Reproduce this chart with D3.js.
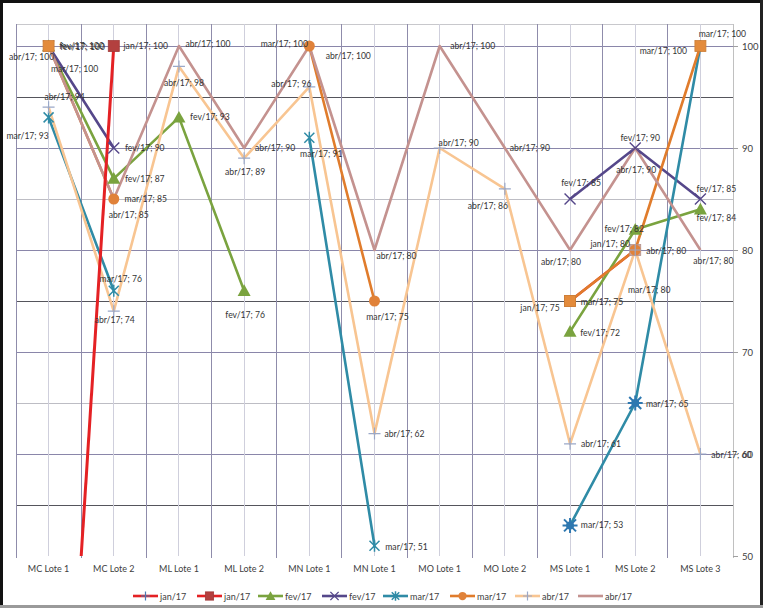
<!DOCTYPE html>
<html><head><meta charset="utf-8">
<script src="https://cdn.jsdelivr.net/npm/d3@7"></script>
<style>body{margin:0;background:#fff} text{font-family:Lato,"Open Sans",sans-serif}</style>
</head><body><svg id="c" width="763" height="608"></svg>
<script>
const categories = ["MC Lote 1","MC Lote 2","ML Lote 1","ML Lote 2","MN Lote 1","MN Lote 1","MO Lote 1","MO Lote 2","MS Lote 1","MS Lote 2","MS Lote 3"];
const seriesNames = ["jan/17","jan/17","fev/17","fev/17","mar/17","mar/17","abr/17","abr/17"];
const jan17a = [null,null,null,null,null,null,null,null,75,80,null];
const jan17b = [0,100,null,null,null,null,null,null,null,null,null];
const fev17a = [100,87,93,76,null,null,null,null,72,82,84];
const fev17b = [100,90,null,null,null,null,null,null,85,90,85];
const mar17a = [93,76,null,null,91,51,null,null,53,65,100];
const mar17b = [100,85,null,null,100,75,null,null,75,80,100];
const abr17a = [94,74,98,89,96,62,90,86,61,80,60];
const abr17b = [100,85,100,90,100,80,100,90,80,90,80];
const yTicks = [50,60,70,80,90,100];

const seriesValues = [jan17a,jan17b,fev17a,fev17b,mar17a,mar17b,abr17a,abr17b];

// styles
const styles = [
  {color:"#e42124", marker:"square", mcolor:"#e08a3c", lmarker:"plus", lmcolor:"#4a7ab5"},
  {color:"#e42124", marker:"square", mcolor:"#b3403f"},
  {color:"#7aa33f", marker:"triangle", mcolor:"#7aa33f"},
  {color:"#55478a", marker:"x", mcolor:"#55478a"},
  {color:"#2f8ba6", marker:"asterisk", mcolor:"#2f8ba6"},
  {color:"#e07c2c", marker:"circle", mcolor:"#e0823a"},
  {color:"#f8c592", marker:"plus", mcolor:"#9aa8c8"},
  {color:"#c4928f", marker:"none", mcolor:"#c4928f"}
];
// per-point marker overrides "series,index"
const markerOverride = {
  "0,9":{marker:"square", mcolor:"#c9a49c"},
  "5,0":{marker:"square", mcolor:"#e38b3c"},
  "5,8":{marker:"square", mcolor:"#e38b3c"},
  "5,10":{marker:"square", mcolor:"#e38b3c"},
  "4,8":{marker:"star", mcolor:"#2e78b0"},
  "4,9":{marker:"star", mcolor:"#2e78b0"}
};
// label offsets (dx,dy) of label centre from point
const labelOffsets = [
  {8:[-30,7],9:[-25,-6]},
  {1:[32,0]},
  {0:[33,0],1:[31,0],2:[31,0],3:[1,24],8:[30,1],9:[-11,-1],10:[16,9]},
  {0:[34,1],1:[31,0],8:[11,-16],9:[5,-10],10:[16,-10]},
  {0:[-21,19],1:[7,-12],4:[12,16],5:[32,1],8:[32,0],9:[32,1],10:[-37,5]},
  {0:[26,23],1:[32,0],4:[-25,-2],5:[13,16],8:[32,1],9:[14,40],10:[22,-12]},
  {0:[16,-10],1:[1,9],2:[5,17],3:[1,14],4:[-18,-3],5:[30,0],6:[19,-5],7:[-17,17],8:[31,0],9:[31,1],10:[31,1]},
  {0:[-17,11],1:[15,16],2:[29,-2],3:[31,0],4:[39,10],5:[22,6],6:[33,0],7:[25,0],8:[-9,12],9:[1,22],10:[13,11]}
];

const svg = d3.select("#c");
const L = 16, R = 733, B = 556;
const x = d3.scaleBand().domain(d3.range(categories.length)).range([L,R]);
const cx = i => x(i) + x.bandwidth()/2;
const y = d3.scaleLinear().domain([50,100]).range([B,46]);
const T = y(102.15);

svg.append("rect").attr("x",0).attr("y",0).attr("width",763).attr("height",608).attr("fill","#fff");

const g = svg.append("g");
// horizontal gridlines every 5
d3.range(55,101,5).forEach(v=>{
  let c = v%10===0 ? "#8a86aa" : (v===95||v===75||v===55 ? "#55555c" : "#bdbdc4");
  g.append("line").attr("x1",L).attr("x2",R).attr("y1",y(v)).attr("y2",y(v)).attr("stroke",c).attr("stroke-width",1).attr("shape-rendering","crispEdges");
});
g.append("line").attr("x1",L).attr("x2",R).attr("y1",T).attr("y2",T).attr("stroke","#c8c8cc").attr("shape-rendering","crispEdges");
// vertical gridlines
categories.forEach((c,i)=>{
  g.append("line").attr("x1",cx(i)).attr("x2",cx(i)).attr("y1",T).attr("y2",B).attr("stroke","#cfcfdc").attr("shape-rendering","crispEdges");
});
d3.range(categories.length+1).forEach(k=>{
  const xx = k===categories.length ? R : x(k);
  g.append("line").attr("x1",xx).attr("x2",xx).attr("y1",T).attr("y2",B+2)
   .attr("stroke", k===categories.length ? "#c0c0c0" : "#8f8cab").attr("shape-rendering","crispEdges");
});
// right axis
const ax = svg.append("g").attr("transform",`translate(${R},0)`)
  .call(d3.axisRight(y).tickValues(yTicks).tickSize(5).tickFormat(d3.format("d")));
ax.select(".domain").remove();
ax.selectAll("line").attr("stroke","#a0a0a0");
ax.selectAll("text").attr("x",9).attr("fill","#404040").style("font-size","9.5px").style("font-family","Lato");

// category labels
svg.append("g").selectAll("text").data(categories).join("text")
  .attr("x",(d,i)=>cx(i)).attr("y",568).attr("text-anchor","middle").attr("dominant-baseline","central")
  .attr("fill","#404040").style("font-size","9px").text(d=>d);

// clip
svg.append("clipPath").attr("id","clip").append("rect").attr("x",L).attr("y",T).attr("width",R-L).attr("height",B-T);

const line = d3.line().defined(d=>d!=null).x((d,i)=>cx(i)).y(d=>y(d));
const lineG = svg.append("g").attr("clip-path","url(#clip)");
const drawOrder = [0,2,3,4,5,6,7,1];
drawOrder.forEach(s=>{
  lineG.append("path").datum(seriesValues[s]).attr("d",line).attr("fill","none")
    .attr("stroke",styles[s].color).attr("stroke-width", s===1?3:2.6).attr("stroke-linejoin","round");
});

function drawMarker(sel, type, color, px, py, small){
  const k = small?0.75:1;
  if(type==="square"){
    sel.append("rect").attr("x",px-5.5*k).attr("y",py-5.5*k).attr("width",11*k).attr("height",11*k).attr("fill",color).attr("stroke",d3.color(color).darker(0.3)).attr("stroke-width",0.8);
  } else if(type==="triangle"){
    const s=6.5*k;
    sel.append("path").attr("d",`M${px},${py-s}L${px+s},${py+s*0.8}L${px-s},${py+s*0.8}Z`).attr("fill",color);
  } else if(type==="x"){
    const s=5.5*k;
    sel.append("path").attr("d",`M${px-s},${py-s}L${px+s},${py+s}M${px-s},${py+s}L${px+s},${py-s}`).attr("stroke",color).attr("stroke-width",1.4);
  } else if(type==="asterisk"){
    const s=5*k;
    sel.append("path").attr("d",`M${px-s},${py-s}L${px+s},${py+s}M${px-s},${py+s}L${px+s},${py-s}M${px},${py-s-1}V${py+s+1}`).attr("stroke",color).attr("stroke-width",1.5);
  } else if(type==="star"){
    const s=6;
    sel.append("circle").attr("cx",px).attr("cy",py).attr("r",4).attr("fill",color);
    sel.append("path").attr("d",`M${px-s},${py-s}L${px+s},${py+s}M${px-s},${py+s}L${px+s},${py-s}M${px},${py-s-1.5}V${py+s+1.5}M${px-s-1.5},${py}H${px+s+1.5}`).attr("stroke",color).attr("stroke-width",2);
  } else if(type==="circle"){
    sel.append("circle").attr("cx",px).attr("cy",py).attr("r",5.5*k).attr("fill",color);
  } else if(type==="plus"){
    const s=6*k;
    sel.append("path").attr("d",`M${px-s},${py}H${px+s}M${px},${py-s}V${py+s}`).attr("stroke",color).attr("stroke-width",1.2);
  }
}

const mG = svg.append("g");
seriesValues.forEach((vals,s)=>{
  vals.forEach((v,i)=>{
    if(v==null) return;
    const py = y(v);
    if(py> B+1) return;
    const o = markerOverride[s+","+i] || {};
    drawMarker(mG, o.marker||styles[s].marker, o.mcolor||styles[s].mcolor, cx(i), py);
  });
});

// data labels
const lG = svg.append("g");
seriesValues.forEach((vals,s)=>{
  vals.forEach((v,i)=>{
    if(v==null) return;
    const off = labelOffsets[s][i];
    if(!off) return;
    lG.append("text").attr("x",cx(i)+off[0]).attr("y",y(v)+off[1])
      .attr("text-anchor","middle").attr("dominant-baseline","central")
      .attr("fill","#333").style("font-size","8.6px").text(seriesNames[s]+"; "+v);
  });
});

// legend
const legX = [133,197,258,322,383,450,515,578];
const legY = 596;
const leg = svg.append("g");
seriesNames.forEach((n,s)=>{
  const x0 = legX[s];
  leg.append("line").attr("x1",x0).attr("x2",x0+25).attr("y1",legY).attr("y2",legY).attr("stroke",styles[s].color).attr("stroke-width",2.6);
  const mk = styles[s].lmarker || styles[s].marker;
  const mc = styles[s].lmcolor || styles[s].mcolor;
  drawMarker(leg, mk, mc, x0+12.5, legY, true);
  leg.append("text").attr("x",x0+27).attr("y",legY).attr("dominant-baseline","central").attr("fill","#404040").style("font-size","9px").text(n);
});

// outer border
svg.append("line").attr("x1",0).attr("x2",763).attr("y1",1.5).attr("y2",1.5).attr("stroke","#111").attr("stroke-width",3);
svg.append("line").attr("x1",1.5).attr("x2",1.5).attr("y1",0).attr("y2",608).attr("stroke","#111").attr("stroke-width",3);
svg.append("line").attr("x1",761.5).attr("x2",761.5).attr("y1",0).attr("y2",608).attr("stroke","#222").attr("stroke-width",3);
svg.append("line").attr("x1",0).attr("x2",763).attr("y1",606.5).attr("y2",606.5).attr("stroke","#9a9a9a").attr("stroke-width",3);
</script></body></html>
